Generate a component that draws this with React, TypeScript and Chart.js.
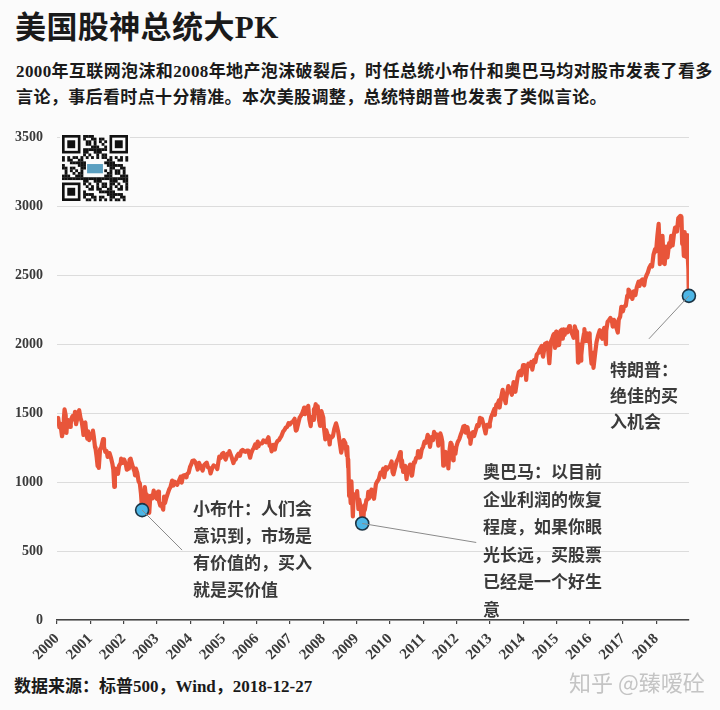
import React, { useEffect, useRef } from "react";
import { Chart, registerables } from "chart.js";
Chart.register(...registerables);

// S&P 500 levels (date "MM-DD", index level)
const y2000: [string, number][] = [["01-03",1455],["01-14",1465],["01-27",1398],["02-04",1424],["02-14",1389],["02-25",1333],["03-07",1366],["03-16",1458],["03-24",1527],["04-05",1487],["04-14",1357],["04-21",1434],["04-28",1452],["05-08",1424],["05-24",1400],["05-31",1421],["06-08",1461],["06-20",1479],["06-30",1455],["07-10",1475],["07-17",1510],["07-28",1420],["08-10",1460],["08-24",1505],["09-01",1521],["09-15",1466],["09-29",1437],["10-10",1388],["10-18",1342],["10-31",1429],["11-07",1432],["11-20",1342],["11-30",1315],["12-08",1369],["12-20",1305],["12-29",1320]];
const y2001: [string, number][] = [["01-03",1347],["01-16",1326],["01-30",1373],["02-08",1332],["02-22",1253],["02-28",1240],["03-12",1180],["03-22",1117],["03-30",1160],["04-04",1103],["04-18",1238],["04-30",1249],["05-21",1312],["05-31",1256],["06-14",1220],["06-29",1224],["07-10",1183],["07-24",1191],["07-31",1211],["08-15",1178],["08-31",1134],["09-10",1093],["09-21",966],["09-28",1041],["10-11",1097],["10-31",1060],["11-12",1118],["11-30",1139],["12-05",1170],["12-20",1139],["12-31",1148]];
const y2002: [string, number][] = [["01-07",1164],["01-24",1133],["02-05",1090],["02-20",1097],["02-28",1107],["03-08",1164],["03-19",1170],["03-28",1147],["04-12",1111],["04-30",1077],["05-07",1049],["05-16",1098],["05-31",1067],["06-14",1007],["06-28",990],["07-10",920],["07-23",797],["07-31",912],["08-05",835],["08-22",963],["08-30",916],["09-11",910],["09-24",833],["09-30",815],["10-09",777],["10-21",900],["10-31",886],["11-13",882],["11-27",938],["12-10",904],["12-18",891],["12-31",880]];
const y2003: [string, number][] = [["01-14",931],["01-24",861],["02-06",830],["02-20",837],["03-11",800],["03-21",895],["03-31",848],["04-14",885],["04-30",917],["05-15",946],["05-30",964],["06-17",1011],["06-30",975],["07-14",1003],["07-31",990],["08-11",980],["08-29",1008],["09-18",1039],["09-30",996],["10-15",1046],["10-31",1051],["11-21",1035],["11-28",1058],["12-15",1068],["12-31",1112]];
const y2004: [string, number][] = [["01-12",1127],["01-26",1155],["02-11",1157],["02-27",1145],["03-10",1124],["03-24",1091],["03-31",1126],["04-07",1140],["04-30",1107],["05-17",1084],["05-31",1121],["06-15",1133],["06-30",1141],["07-15",1107],["07-30",1102],["08-12",1063],["08-31",1104],["09-15",1121],["09-30",1115],["10-15",1109],["10-25",1095],["11-15",1184],["11-30",1174],["12-15",1203],["12-31",1212]];
const y2005: [string, number][] = [["01-11",1183],["01-24",1164],["02-15",1206],["02-28",1204],["03-07",1225],["03-31",1181],["04-20",1138],["04-29",1157],["05-16",1165],["05-31",1192],["06-15",1206],["06-30",1191],["07-15",1227],["07-29",1234],["08-15",1223],["08-31",1220],["09-15",1228],["09-30",1229],["10-20",1177],["10-31",1207],["11-15",1233],["11-30",1249],["12-14",1273],["12-30",1248]];
const y2006: [string, number][] = [["01-11",1294],["01-20",1261],["01-31",1280],["02-15",1280],["02-28",1281],["03-15",1303],["03-31",1295],["04-13",1289],["04-28",1311],["05-09",1325],["05-22",1262],["05-31",1270],["06-13",1223],["06-30",1270],["07-18",1236],["07-31",1277],["08-15",1298],["08-31",1304],["09-15",1321],["09-29",1336],["10-16",1366],["10-31",1378],["11-15",1396],["11-30",1401],["12-15",1427],["12-29",1418]];
const y2007: [string, number][] = [["01-12",1431],["01-31",1438],["02-20",1459],["02-27",1400],["03-05",1374],["03-14",1377],["03-30",1421],["04-16",1468],["04-30",1482],["05-15",1501],["05-31",1531],["06-04",1540],["06-12",1493],["06-29",1503],["07-19",1553],["07-31",1455],["08-15",1406],["08-23",1462],["08-31",1474],["09-10",1451],["09-19",1529],["09-28",1527],["10-09",1565],["10-19",1501],["10-31",1549],["11-08",1475],["11-26",1407],["11-30",1481],["12-10",1515],["12-31",1468]];
const y2008: [string, number][] = [["01-08",1390],["01-22",1310],["01-31",1378],["02-14",1349],["02-29",1331],["03-10",1273],["03-18",1330],["03-31",1323],["04-15",1334],["04-30",1386],["05-19",1426],["05-30",1400],["06-13",1360],["06-30",1280],["07-15",1214],["07-31",1267],["08-11",1305],["08-29",1283],["09-15",1193],["09-19",1255],["09-29",1106],["09-30",1166],["10-10",899],["10-13",1003],["10-27",848],["10-31",969],["11-04",1006],["11-20",752],["11-28",896],["12-08",909],["12-16",913],["12-31",903]];
const y2009: [string, number][] = [["01-06",935],["01-20",805],["01-28",874],["02-10",828],["02-23",743],["02-27",735],["03-09",677],["03-26",832],["03-31",798],["04-17",870],["04-30",873],["05-08",929],["05-15",882],["05-29",919],["06-12",946],["06-23",895],["06-30",919],["07-10",879],["07-31",987],["08-14",1005],["08-31",1021],["09-18",1068],["09-30",1057],["10-19",1097],["10-30",1036],["11-16",1109],["11-27",1091],["12-15",1107],["12-31",1115]];
const y2010: [string, number][] = [["01-19",1150],["01-29",1074],["02-08",1056],["02-26",1104],["03-15",1150],["03-31",1169],["04-23",1217],["04-30",1187],["05-07",1111],["05-13",1157],["05-25",1074],["05-31",1089],["06-18",1117],["06-30",1031],["07-02",1022],["07-14",1096],["07-30",1102],["08-09",1127],["08-26",1047],["08-31",1049],["09-20",1143],["09-30",1141],["10-15",1176],["10-29",1183],["11-05",1225],["11-16",1178],["11-30",1181],["12-15",1236],["12-31",1258]];
const y2011: [string, number][] = [["01-14",1293],["01-31",1286],["02-18",1343],["02-28",1327],["03-16",1256],["03-31",1326],["04-18",1305],["04-29",1364],["05-16",1329],["05-31",1345],["06-15",1265],["06-30",1321],["07-07",1353],["07-19",1326],["07-29",1292],["08-08",1119],["08-15",1204],["08-19",1124],["08-31",1219],["09-12",1162],["09-22",1129],["09-30",1131],["10-03",1099],["10-14",1225],["10-27",1285],["10-31",1253],["11-08",1276],["11-25",1158],["11-30",1247],["12-19",1205],["12-30",1258]];
const y2012: [string, number][] = [["01-13",1289],["01-31",1312],["02-15",1343],["02-29",1366],["03-16",1404],["03-30",1408],["04-10",1358],["04-30",1398],["05-15",1330],["05-31",1310],["06-01",1278],["06-19",1357],["06-29",1362],["07-12",1334],["07-31",1379],["08-16",1415],["08-31",1407],["09-14",1466],["09-28",1441],["10-05",1461],["10-25",1412],["11-15",1353],["11-30",1416],["12-14",1414],["12-28",1402],["12-31",1426]];
const y2013: [string, number][] = [["01-15",1472],["01-31",1498],["02-19",1531],["02-25",1488],["02-28",1515],["03-14",1563],["03-28",1569],["04-11",1593],["04-18",1541],["04-30",1598],["05-21",1669],["05-31",1631],["06-24",1573],["06-28",1606],["07-22",1696],["07-31",1686],["08-15",1661],["08-30",1633],["09-18",1725],["09-30",1682],["10-08",1655],["10-31",1757],["11-15",1798],["11-29",1806],["12-13",1775],["12-31",1848]];
const y2014: [string, number][] = [["01-15",1848],["01-31",1783],["02-03",1742],["02-14",1838],["02-28",1859],["03-14",1841],["03-31",1872],["04-11",1816],["04-30",1884],["05-15",1870],["05-30",1924],["06-16",1937],["06-30",1960],["07-24",1988],["07-31",1931],["08-07",1910],["08-29",2003],["09-18",2011],["09-30",1972],["10-15",1862],["10-31",2018],["11-14",2039],["11-28",2068],["12-05",2075],["12-16",1973],["12-29",2091],["12-31",2059]];
const y2015: [string, number][] = [["01-15",1992],["01-30",1995],["02-13",2096],["02-27",2105],["03-11",2040],["03-20",2108],["03-31",2068],["04-15",2106],["04-30",2086],["05-21",2131],["05-29",2107],["06-15",2084],["06-30",2063],["07-08",2047],["07-20",2129],["07-31",2104],["08-14",2092],["08-24",1893],["08-25",1867],["08-31",1972],["09-16",1996],["09-28",1881],["09-30",1920],["10-15",2023],["10-30",2079],["11-03",2109],["11-13",2023],["11-30",2080],["12-14",2021],["12-29",2078],["12-31",2044]];
const y2016: [string, number][] = [["01-11",1923],["01-20",1859],["01-29",1940],["02-11",1829],["02-29",1932],["03-15",2015],["03-31",2060],["04-20",2102],["04-29",2065],["05-19",2040],["05-31",2097],["06-08",2119],["06-27",2001],["06-30",2099],["07-15",2162],["07-29",2174],["08-15",2190],["08-31",2171],["09-09",2128],["09-22",2177],["09-30",2168],["10-14",2133],["11-04",2085],["11-15",2180],["11-30",2199],["12-13",2271],["12-30",2239]];
const y2017: [string, number][] = [["01-13",2274],["01-31",2279],["02-15",2349],["02-28",2364],["03-01",2396],["03-15",2385],["03-27",2342],["03-31",2363],["04-13",2329],["04-28",2384],["05-17",2357],["05-31",2412],["06-19",2453],["06-30",2423],["07-14",2459],["07-31",2470],["08-10",2438],["08-21",2428],["08-31",2472],["09-15",2500],["09-29",2519],["10-16",2557],["10-31",2575],["11-15",2564],["11-30",2648],["12-18",2690],["12-29",2674]];
const y2018: [string, number][] = [["01-12",2786],["01-26",2873],["02-02",2762],["02-08",2581],["02-16",2732],["02-26",2780],["03-02",2691],["03-09",2786],["03-23",2588],["04-02",2582],["04-18",2708],["04-30",2648],["05-03",2630],["05-21",2733],["05-31",2705],["06-12",2786],["06-28",2716],["07-13",2801],["07-25",2846],["07-31",2816],["08-15",2818],["08-29",2914],["09-20",2930],["09-28",2914],["10-03",2925],["10-11",2728],["10-17",2809],["10-29",2641],["11-07",2814],["11-20",2642],["11-23",2633],["11-30",2760],["12-03",2790],["12-07",2633],["12-13",2651],["12-18",2546],["12-21",2417],["12-24",2351]];

const yearSeries: [number, [string, number][]][] = [
  [2000, y2000], [2001, y2001], [2002, y2002], [2003, y2003], [2004, y2004],
  [2005, y2005], [2006, y2006], [2007, y2007], [2008, y2008], [2009, y2009],
  [2010, y2010], [2011, y2011], [2012, y2012], [2013, y2013], [2014, y2014],
  [2015, y2015], [2016, y2016], [2017, y2017], [2018, y2018],
];

// Presidents' remarks (date, level)
const markerDates = ["2002-07-23", "2009-03-03", "2018-12-24"];
const markerValues = [797, 700, 2351];

const yTicks = [0, 500, 1000, 1500, 2000, 2500, 3000, 3500];

function toYear(d: string): number {
  const [y, m, dd] = d.split("-").map(Number);
  const start = Date.UTC(y, 0, 1);
  const len = Date.UTC(y + 1, 0, 1) - start;
  return y + (Date.UTC(y, m - 1, dd) - start) / len;
}

const SERIF = '"Liberation Serif", "Noto Sans CJK SC", serif';
const CJK = '"Liberation Serif", "Noto Sans CJK SC", sans-serif';

const CANVAS_TOP = 115;
const CANVAS_W = 720;
const CANVAS_H = 560;
const AREA_LEFT = 57;
const AREA_RIGHT = 689;
const AREA_TOP = 136.7 - CANVAS_TOP;
const AREA_BOTTOM = 620 - CANVAS_TOP;

const leaderOffsets = [
  [40, 40],
  [114, 19],
  [-40, 43],
];

const decorPlugin = {
  id: "decor",
  beforeDatasetsDraw(chart: any) {
    const ctx = chart.ctx as CanvasRenderingContext2D;
    // QR-like badge in upper left
    const qx = 62, qy = 135 - CANVAS_TOP, size = 66, n = 25;
    const m = size / n;
    ctx.save();
    ctx.fillStyle = "#fbfbfb";
    ctx.fillRect(qx - 2, qy - 2, size + 4, size + 4);
    ctx.fillStyle = "#111";
    const finder = (fx: number, fy: number) => {
      ctx.fillRect(qx + fx * m, qy + fy * m, 7 * m, 7 * m);
      ctx.fillStyle = "#fbfbfb";
      ctx.fillRect(qx + (fx + 1) * m, qy + (fy + 1) * m, 5 * m, 5 * m);
      ctx.fillStyle = "#111";
      ctx.fillRect(qx + (fx + 2) * m, qy + (fy + 2) * m, 3 * m, 3 * m);
    };
    finder(0, 0);
    finder(n - 7, 0);
    finder(0, n - 7);
    for (let i = 0; i < n; i++) {
      for (let j = 0; j < n; j++) {
        const inFinder = (i < 8 && j < 8) || (i >= n - 8 && j < 8) || (i < 8 && j >= n - 8);
        if (inFinder) continue;
        if (i >= 9 && i <= 15 && j >= 9 && j <= 15) continue;
        if (((i * 31 + j * 17 + i * j * 7) % 11) % 2 === 0) {
          ctx.fillRect(qx + i * m, qy + j * m, m + 0.2, m + 0.2);
        }
      }
    }
    ctx.fillStyle = "#5b9fc0";
    ctx.fillRect(qx + 9.5 * m, qy + 11 * m, 6 * m, 3.5 * m);
    ctx.restore();
  },
  afterDatasetsDraw(chart: any) {
    const ctx = chart.ctx as CanvasRenderingContext2D;
    const meta = chart.getDatasetMeta(1);
    ctx.save();
    ctx.strokeStyle = "#8a8a8a";
    ctx.lineWidth = 1;
    meta.data.forEach((pt: any, i: number) => {
      const [dx, dy] = leaderOffsets[i];
      ctx.beginPath();
      ctx.moveTo(pt.x, pt.y);
      ctx.lineTo(pt.x + dx, pt.y + dy);
      ctx.stroke();
    });
    ctx.restore();
  },
};

function StockChart() {
  const ref = useRef<HTMLCanvasElement | null>(null);
  useEffect(() => {
    if (!ref.current) return;
    const linePts = yearSeries.flatMap(([yr, arr]) =>
      arr.map(([md, v]) => ({ x: toYear(`${yr}-${md}`), y: v }))
    );
    const markerPts = markerDates.map((d, i) => ({ x: toYear(d), y: markerValues[i] }));
    const chart = new Chart(ref.current, {
      type: "line",
      data: {
        datasets: [
          {
            data: linePts,
            borderColor: "#e8553a",
            borderWidth: 4.2,
            pointRadius: 0,
            tension: 0,
            borderJoinStyle: "round",
            order: 2,
          },
          {
            data: markerPts,
            showLine: false,
            clip: false,
            pointRadius: 6.5,
            pointBackgroundColor: "#4db6e6",
            pointBorderColor: "#1c3444",
            pointBorderWidth: 1.6,
            order: 1,
          },
        ],
      },
      options: {
        responsive: false,
        animation: false,
        events: [],
        layout: { padding: { left: 0, right: CANVAS_W - AREA_RIGHT, top: AREA_TOP, bottom: 0 } },
        plugins: { legend: { display: false }, tooltip: { enabled: false } },
        scales: {
          x: {
            type: "linear",
            min: 2000,
            max: 2018.98,
            border: { display: true, color: "#444", width: 1.6 },
            grid: { drawOnChartArea: false, drawTicks: true, tickLength: 4, color: "#444", lineWidth: 1.2 },
            ticks: {
              stepSize: 1,
              includeBounds: false,
              autoSkip: false,
              maxRotation: 45,
              minRotation: 45,
              padding: 6,
              color: "#3a3a3a",
              font: { family: SERIF, size: 15, weight: "bold" },
              callback: (v: any) => String(v),
            },
            afterFit: (s: any) => {
              s.height = CANVAS_H - AREA_BOTTOM;
            },
          },
          y: {
            min: 0,
            max: 3500,
            border: { display: false },
            grid: { color: "#dcdcdc", lineWidth: 1, drawTicks: false },
            afterBuildTicks: (s: any) => {
              s.ticks = yTicks.map((v) => ({ value: v }));
            },
            ticks: {
              padding: 14,
              color: "#3a3a3a",
              font: { family: SERIF, size: 14, weight: "bold" },
              callback: (v: any) => String(v),
            },
            afterFit: (s: any) => {
              s.width = AREA_LEFT;
            },
          },
        },
      },
      plugins: [decorPlugin],
    } as any);
    return () => chart.destroy();
  }, []);
  return (
    <canvas
      ref={ref}
      width={CANVAS_W}
      height={CANVAS_H}
      style={{ position: "absolute", left: 0, top: CANVAS_TOP, width: CANVAS_W, height: CANVAS_H }}
    />
  );
}

const noteStyle: React.CSSProperties = {
  position: "absolute",
  fontFamily: CJK,
  fontSize: 17,
  color: "#3a3a3a",
  fontWeight: "bold",
  whiteSpace: "nowrap",
};

export default function App() {
  return (
    <div
      style={{
        position: "absolute",
        left: 0,
        top: 0,
        width: 720,
        height: 710,
        background: "#fbfbfb",
        overflow: "hidden",
      }}
    >
      <div
        style={{
          position: "absolute",
          left: 15,
          top: 8,
          fontFamily: CJK,
          fontSize: 31,
          fontWeight: "bold",
          color: "#1a1a1a",
          lineHeight: "40px",
          letterSpacing: "0.4px",
          whiteSpace: "nowrap",
        }}
      >
        美国股神总统大PK
      </div>
      <div
        style={{
          position: "absolute",
          left: 16,
          top: 59,
          width: 710,
          fontFamily: CJK,
          fontSize: 17,
          fontWeight: "bold",
          color: "#1a1a1a",
          lineHeight: "26px",
          letterSpacing: "0.38px",
        }}
      >
        <div style={{ whiteSpace: "nowrap" }}>
          2000年互联网泡沫和2008年地产泡沫破裂后，时任总统小布什和奥巴马均对股市发表了看多
        </div>
        <div style={{ whiteSpace: "nowrap" }}>
          言论，事后看时点十分精准。本次美股调整，总统特朗普也发表了类似言论。
        </div>
      </div>

      <StockChart />

      <div style={{ ...noteStyle, left: 193, top: 496, lineHeight: "27px" }}>
        <div>小布什：人们会</div>
        <div>意识到，市场是</div>
        <div>有价值的，买入</div>
        <div>就是买价值</div>
      </div>
      <div style={{ ...noteStyle, left: 483, top: 459, lineHeight: "27.5px" }}>
        <div>奥巴马：以目前</div>
        <div>企业利润的恢复</div>
        <div>程度，如果你眼</div>
        <div>光长远，买股票</div>
        <div>已经是一个好生</div>
        <div>意</div>
      </div>
      <div style={{ ...noteStyle, left: 610, top: 358, lineHeight: "26px" }}>
        <div>特朗普：</div>
        <div>绝佳的买</div>
        <div>入机会</div>
      </div>

      <div
        style={{
          position: "absolute",
          left: 14,
          top: 676,
          fontFamily: CJK,
          fontSize: 17,
          fontWeight: "bold",
          color: "#1a1a1a",
          lineHeight: "22px",
          whiteSpace: "nowrap",
        }}
      >
        数据来源：标普500，Wind，2018-12-27
      </div>
      <div
        style={{
          position: "absolute",
          left: 569,
          top: 666,
          fontFamily: '"Noto Sans CJK SC", sans-serif',
          fontSize: 22,
          color: "#c4c4c4",
          lineHeight: "30px",
          whiteSpace: "nowrap",
        }}
      >
        知乎 @臻嗳砼
      </div>
    </div>
  );
}
